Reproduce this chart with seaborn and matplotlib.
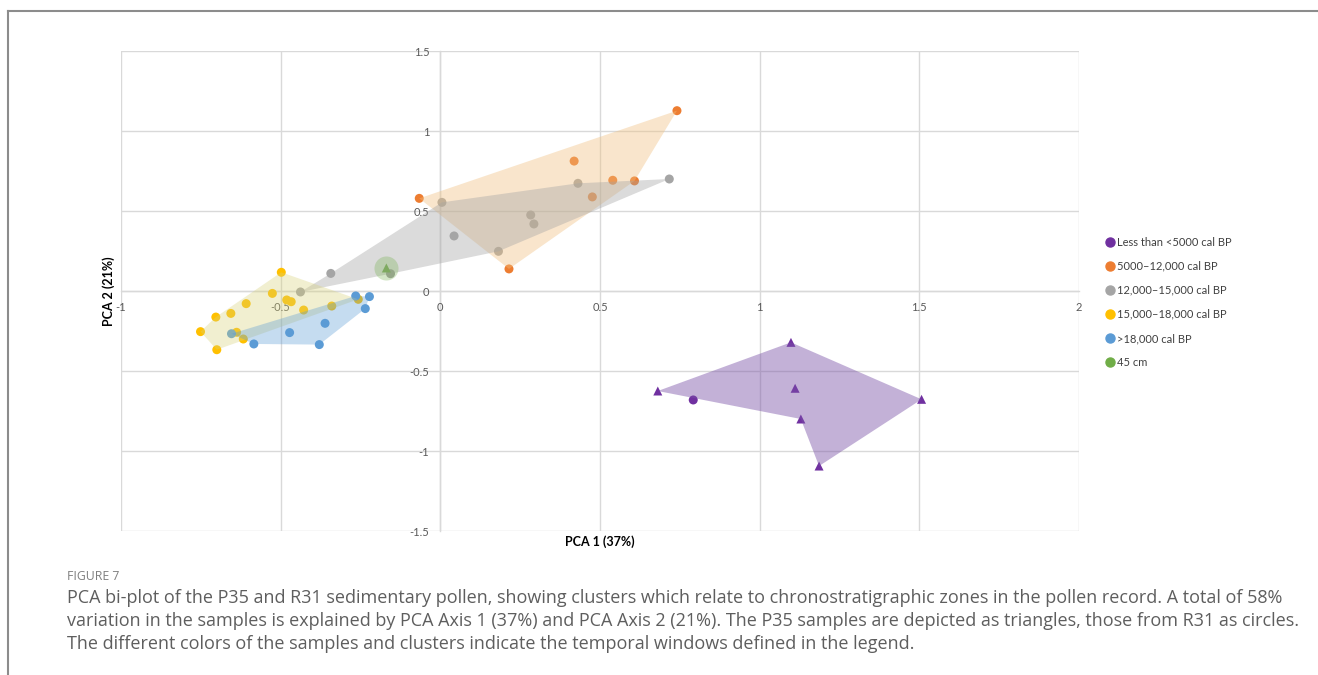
import numpy as np
import pandas as pd
import matplotlib
matplotlib.use("Agg")
import matplotlib.pyplot as plt
import seaborn as sns
from matplotlib.lines import Line2D
from matplotlib.ticker import FuncFormatter

# ---------------- data ----------------
groups = ["Less than <5000 cal BP", "5000\u201312,000 cal BP", "12,000\u201315,000 cal BP",
          "15,000\u201318,000 cal BP", ">18,000 cal BP", "45 cm"]
colors = ["#7030a0", "#ed7d31", "#a5a5a5", "#ffc000", "#5b9bd5", "#70ad47"]

# Less than <5000 cal BP
purple_x = [0.681, 1.098, 1.111, 1.507, 1.129, 1.186, 0.792]
purple_y = [-0.625, -0.321, -0.608, -0.677, -0.800, -1.094, -0.681]
purple_site = ["P35", "P35", "P35", "P35", "P35", "P35", "R31"]
purple_hull = [0, 1, 3, 5, 4]

# 5000-12,000 cal BP
orange_x = [0.741, 0.419, 0.540, 0.608, 0.476, -0.066, 0.215]
orange_y = [1.127, 0.812, 0.692, 0.688, 0.588, 0.579, 0.138]
orange_site = ["R31"] * 7
orange_hull = [5, 0, 3, 6]

# 12,000-15,000 cal BP
grey_x = [0.717, 0.431, 0.005, 0.283, 0.293, 0.043, 0.182, -0.156, -0.343, -0.438]
grey_y = [0.700, 0.673, 0.554, 0.475, 0.419, 0.344, 0.248, 0.108, 0.110, -0.006]
grey_site = ["R31"] * 10
grey_hull = [9, 8, 2, 1, 0, 6, 7]

# 15,000-18,000 cal BP
yellow_x = [-0.498, -0.526, -0.608, -0.481, -0.467, -0.428, -0.340, -0.257,
            -0.703, -0.656, -0.751, -0.638, -0.617, -0.700]
yellow_y = [0.117, -0.015, -0.079, -0.056, -0.067, -0.119, -0.094, -0.052,
            -0.163, -0.140, -0.254, -0.258, -0.300, -0.367]
yellow_site = ["R31"] * 14
yellow_hull = [0, 7, 13, 10, 8]

# >18,000 cal BP
blue_x = [-0.265, -0.222, -0.235, -0.361, -0.472, -0.379, -0.584, -0.654]
blue_y = [-0.031, -0.035, -0.110, -0.202, -0.260, -0.335, -0.331, -0.267]
blue_site = ["R31"] * 8
blue_hull = [7, 0, 1, 2, 5, 6]

# 45 cm
green_x = [-0.169]
green_y = [0.144]
green_site = ["P35"]

xticks = [-1, -0.5, 0, 0.5, 1, 1.5, 2]
yticks = [-1.5, -1, -0.5, 0, 0.5, 1, 1.5]

caption_head = "FIGURE 7"
caption_lines = [
    "PCA bi-plot of the P35 and R31 sedimentary pollen, showing clusters which relate to chronostratigraphic zones in the pollen record. A total of 58%",
    "variation in the samples is explained by PCA Axis 1 (37%) and PCA Axis 2 (21%). The P35 samples are depicted as triangles, those from R31 as circles.",
    "The different colors of the samples and clusters indicate the temporal windows defined in the legend.",
]

# ---------------- build table ----------------
series = [
    (purple_x, purple_y, purple_site, purple_hull),
    (orange_x, orange_y, orange_site, orange_hull),
    (grey_x, grey_y, grey_site, grey_hull),
    (yellow_x, yellow_y, yellow_site, yellow_hull),
    (blue_x, blue_y, blue_site, blue_hull),
    (green_x, green_y, green_site, None),
]
rows = []
for g, (xs, ys, ss, _) in zip(groups, series):
    for x, y, s in zip(xs, ys, ss):
        rows.append({"PC1": x, "PC2": y, "group": g, "site": s})
df = pd.DataFrame(rows)

hull_style = {
    groups[0]: ("#7a52a8", 0.45),
    groups[1]: ("#f0c080", 0.40),
    groups[2]: ("#a5a5a5", 0.40),
    groups[3]: ("#d8d27a", 0.35),
    groups[4]: ("#5b9bd5", 0.35),
}

# ---------------- figure ----------------
plt.rcParams["font.family"] = ["Lato", "DejaVu Sans"]
fig = plt.figure(figsize=(13.18, 6.75), dpi=100)
W, H = 1318, 675
ax = fig.add_axes([121 / W, 1 - 531 / H, (1079 - 121) / W, (531 - 51) / H])

sns.scatterplot(data=df, x="PC1", y="PC2", hue="group", style="site",
                palette=dict(zip(groups, colors)), hue_order=groups,
                markers={"R31": "o", "P35": "^"}, s=42, linewidth=0,
                legend=False, ax=ax, zorder=2)

for g, (xs, ys, ss, hull) in zip(groups, series):
    if hull is None:
        continue
    fc, a = hull_style[g]
    ax.fill([xs[i] for i in hull], [ys[i] for i in hull], color=fc, alpha=a,
            lw=0, zorder=3)

# halo around the 45 cm sample
ax.scatter(green_x, green_y, s=300, color="#70ad47", alpha=0.3, lw=0, zorder=3)

ax.set_xlim(-1, 2)
ax.set_ylim(-1.5, 1.5)
ax.set_xticks(xticks)
ax.set_yticks(yticks)
fmt = FuncFormatter(lambda v, p: f"{v:g}")
ax.xaxis.set_major_formatter(fmt)
ax.yaxis.set_major_formatter(fmt)
ax.grid(True, color="#d9d9d9", lw=1, zorder=0)
ax.set_axisbelow(True)
for side in ["top", "right"]:
    ax.spines[side].set_visible(False)
ax.spines["left"].set_position(("data", 0))
ax.spines["bottom"].set_position(("data", 0))
for side in ["left", "bottom"]:
    ax.spines[side].set_color("#d9d9d9")
    ax.spines[side].set_linewidth(1)
    ax.spines[side].set_zorder(0.5)
ax.tick_params(axis="both", length=0, labelsize=8, labelcolor="#595959")
ax.tick_params(axis="x", pad=8)
ax.tick_params(axis="y", pad=8)
ax.set_xlabel("")
ax.set_ylabel("")

fig.text(600 / W, 1 - 542 / H, "PCA 1 (37%)", ha="center", va="center",
         fontsize=9, fontweight="bold", color="#000000")
fig.text(109 / W, 1 - 291 / H, "PCA 2 (21%)", ha="center", va="center",
         rotation=90, fontsize=9, fontweight="bold", color="#000000")

handles = [Line2D([], [], ls="", marker="o", color=c, markersize=6.5) for c in colors]
fig.legend(handles, groups, loc="upper left",
           bbox_to_anchor=(1100 / W, 1 - 231 / H), frameon=False, fontsize=8,
           handlelength=0.8, handletextpad=0.2, labelspacing=1.18,
           borderpad=0, labelcolor="#404040")

# caption
fig.text(67 / W, 1 - 576 / H, caption_head, ha="left", va="center",
         fontsize=8.8, color="#7f7f7f", family=["Open Sans", "DejaVu Sans"])
renderer = fig.canvas.get_renderer()
cap_texts = []
for i, line in enumerate(caption_lines):
    t = fig.text(67 / W, 1 - (598 + 23 * i) / H, line, ha="left", va="center",
                 fontsize=12, color="#5e5e5e", family=["Open Sans", "DejaVu Sans"])
    cap_texts.append(t)
w0 = cap_texts[0].get_window_extent(renderer).width
scale = (1283 - 67) / w0
for t in cap_texts:
    t.set_fontsize(12 * scale)

# article frame
fig.add_artist(Line2D([7.5 / W, 1], [1 - 10.5 / H, 1 - 10.5 / H],
                      transform=fig.transFigure, color="#8c8c8c", lw=1.5))
fig.add_artist(Line2D([7.5 / W, 7.5 / W], [0, 1 - 10.5 / H],
                      transform=fig.transFigure, color="#8c8c8c", lw=1.5))

fig.savefig("out.png", dpi=100)
